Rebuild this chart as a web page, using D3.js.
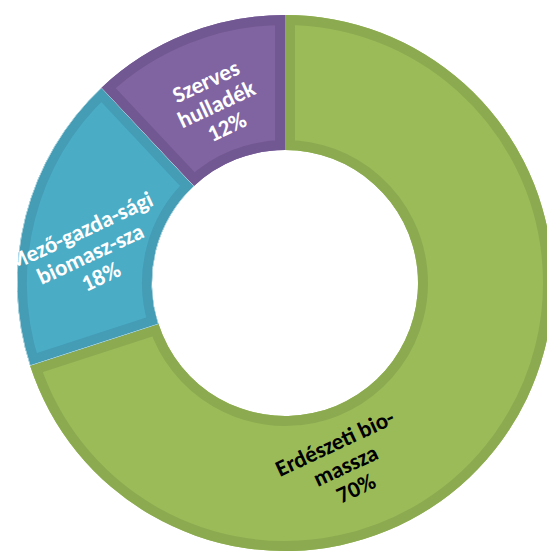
<!DOCTYPE html>
<html>
<head>
<meta charset="utf-8">
<script src="https://cdn.jsdelivr.net/npm/d3@7"></script>
<style>
  html, body { margin: 0; padding: 0; background: #fff; }
  svg { display: block; }
</style>
</head>
<body>
<svg id="chart" width="547" height="554"></svg>
<script>
// Biomass sources, share in percent
const categories = ["Erdészeti bio-massza", "Mező-gazda-sági biomasz-sza", "Szerves hulladék"];
const labelLines = [["Erdészeti bio-", "massza"], ["Mező-gazda-sági", "biomasz-sza"], ["Szerves", "hulladék"]];
const values = [70, 18, 12];
const fills = ["#9bbb59", "#4bacc6", "#8064a2"];
const edges = ["#8cab50", "#449cb5", "#725892"];
const textColors = ["#000000", "#ffffff", "#ffffff"];
// polar placement of each label block (degrees clockwise from top, radius)
const labelAngles = [161.7, 278.6, 339];
const labelRadii = [192, 197, 192];

const svg = d3.select("#chart");
const cx = 285, cy = 283;
const outerR = 268, innerR = 133, edgeW = 10;

const pie = d3.pie().sort(null).value(d => d)(values);
const arc = d3.arc().innerRadius(innerR).outerRadius(outerR);

const defs = svg.append("defs");
// plot area clip: labels are cut at the left edge of the plot area
defs.append("clipPath").attr("id", "plotClip")
  .append("rect").attr("x", 12).attr("y", 0).attr("width", 535).attr("height", 554);

const g = svg.append("g").attr("transform", `translate(${cx},${cy})`);

pie.forEach((p, i) => {
  defs.append("clipPath").attr("id", "clip" + i)
    .append("path").attr("d", arc(p));
});

const slices = g.selectAll("g.slice").data(pie).join("g").attr("class", "slice");
slices.append("path")
  .attr("d", d => arc(d))
  .attr("fill", (d, i) => fills[i]);
slices.append("path")
  .attr("d", d => arc(d))
  .attr("fill", "none")
  .attr("stroke", (d, i) => edges[i])
  .attr("stroke-width", edgeW * 2)
  .attr("clip-path", (d, i) => `url(#clip${i})`);
// thin light seam between the blue and green slices
g.append("path")
  .attr("d", arc(pie[1]))
  .attr("fill", "none")
  .attr("stroke", "#e8f2f5")
  .attr("stroke-width", 1)
  .attr("clip-path", "url(#clip1)");

const labelLayer = svg.append("g").attr("clip-path", "url(#plotClip)")
  .append("g").attr("transform", `translate(${cx},${cy})`);
const fontSize = 23, lineH = 25;

pie.forEach((p, i) => {
  const a = labelAngles[i] * Math.PI / 180;
  const r = labelRadii[i];
  const [lx, ly] = d3.arc().innerRadius(r).outerRadius(r).centroid({ startAngle: a, endAngle: a });
  const lines = labelLines[i].concat([values[i] + "%"]);
  const t = labelLayer.append("text")
    .attr("transform", `translate(${lx},${ly}) rotate(-25)`)
    .attr("text-anchor", "middle")
    .attr("font-family", "Carlito, Calibri, Lato, sans-serif")
    .attr("font-weight", "bold")
    .attr("font-size", fontSize)
    .attr("fill", textColors[i]);
  lines.forEach((ln, k) => {
    t.append("tspan")
      .attr("x", 0)
      .attr("y", (k - (lines.length - 1) / 2) * lineH + fontSize * 0.35)
      .text(ln);
  });
});
</script>
</body>
</html>
